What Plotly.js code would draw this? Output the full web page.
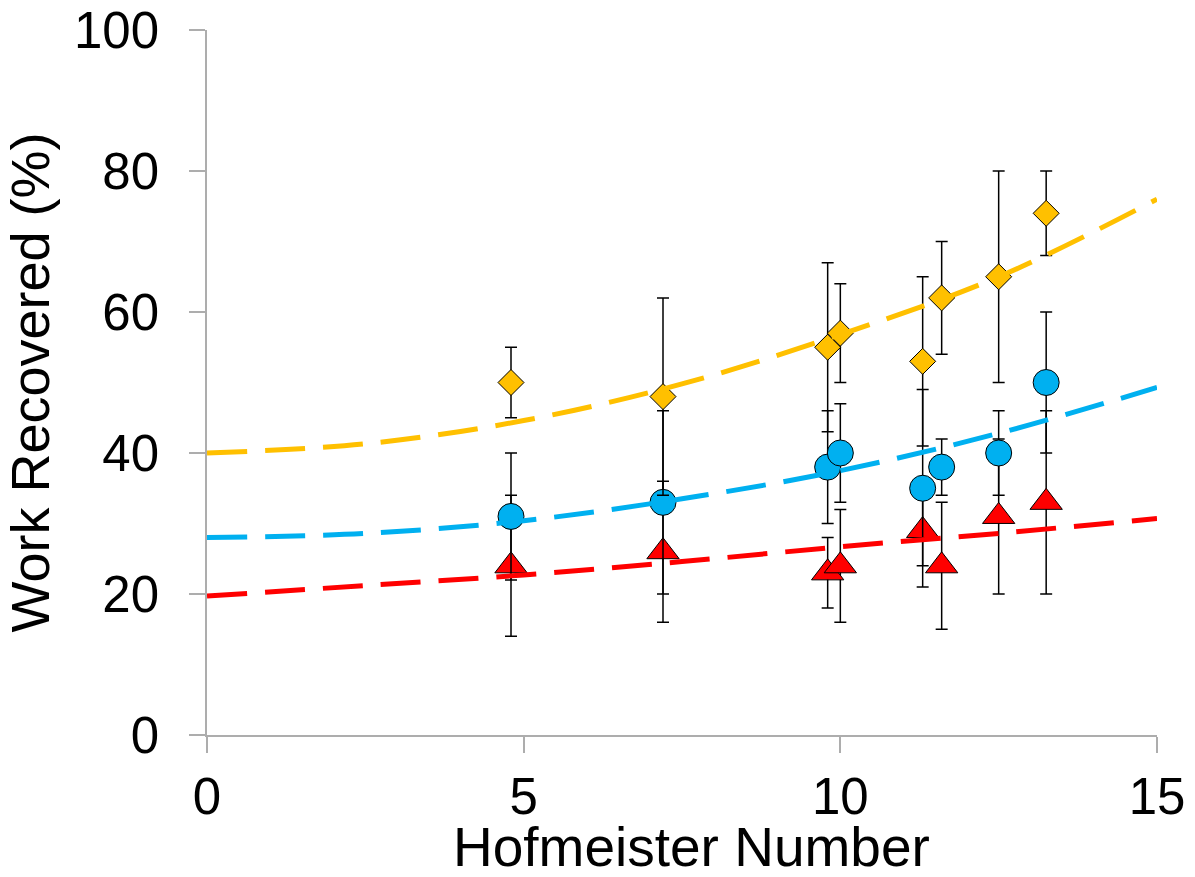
<!DOCTYPE html>
<html>
<head>
<meta charset="utf-8">
<script src="https://cdn.plot.ly/plotly-3.0.1.min.js"></script>
<style>
  html, body { margin: 0; padding: 0; background: #ffffff; }
  #chart { width: 1195px; height: 877px; }
</style>
</head>
<body>
<div id="chart"></div>
<script>
// Measured points
const hofmeister = [4.8, 7.2, 9.8, 10.0, 11.3, 11.6, 12.5, 13.25];
const diamondValues = [50, 48, 55, 57, 53, 62, 65, 74];
const diamondErrors = [5, 14, 12, 7, 12, 8, 15, 6];
const circleValues = [31, 33, 38, 40, 35, 38, 40, 50];
const circleErrors = [9, 13, 8, 7, 14, 4, 6, 10];
const triangleValues = [24, 26, 23, 24, 29, 24, 31, 33];
const triangleErrors = [10, 10, 5, 8, 5, 9, 11, 13];

// Trend lines
const fitX = [0, 2.5, 5, 7.5, 10, 12.5, 15];
const diamondFit = [40, 41.3, 44.6, 49.8, 56.8, 65, 76];
const circleFit = [28, 28.6, 30.4, 33.5, 37.5, 42.8, 49.3];
const triangleFit = [19.7, 21.2, 22.7, 24.6, 26.7, 28.6, 30.7];

const xTickVals = [0, 5, 10, 15];
const yTickVals = [0, 20, 40, 60, 80, 100];
const xTitle = 'Hofmeister Number';
const yTitle = 'Work Recovered (%)';

const YELLOW = '#FFC000', BLUE = '#00B0F0', RED = '#FF0000';
const AXIS = '#ADADAD';
const FONT = '"Liberation Sans", Arial, sans-serif';

function errBar(arr) {
  return { type: 'data', array: arr, visible: true, color: '#000000', thickness: 1.5, width: 6 };
}
function pts(y, err, color, symbol, size) {
  return {
    x: hofmeister, y: y, type: 'scatter', mode: 'markers',
    marker: { color: color, symbol: symbol, size: size, line: { color: '#000000', width: 1 } },
    error_y: errBar(err), showlegend: false, hoverinfo: 'x+y'
  };
}
function fit(y, color) {
  return {
    x: fitX, y: y, type: 'scatter', mode: 'lines',
    line: { color: color, width: 5, dash: '40px,18px', shape: 'spline', smoothing: 1 },
    showlegend: false, hoverinfo: 'skip'
  };
}

const data = [
  pts(triangleValues, triangleErrors, RED, 'triangle-up', 28),
  pts(circleValues, circleErrors, BLUE, 'circle', 26),
  pts(diamondValues, diamondErrors, YELLOW, 'diamond', 20),
  fit(diamondFit, YELLOW),
  fit(circleFit, BLUE),
  fit(triangleFit, RED)
];

const layout = {
  width: 1195, height: 877,
  margin: { l: 207, r: 38, t: 30, b: 142 },
  paper_bgcolor: '#ffffff', plot_bgcolor: '#ffffff',
  font: { family: FONT, color: '#000000', size: 51 },
  xaxis: {
    range: [0, 15], tickvals: xTickVals, ticktext: xTickVals.map(String),
    showgrid: false, zeroline: false, showline: true, linecolor: AXIS, linewidth: 1.5,
    ticks: 'outside', ticklen: 16, tickcolor: AXIS, tickwidth: 1.5,
    tickfont: { family: FONT, size: 51, color: '#000000' },
    automargin: false
  },
  yaxis: {
    range: [0, 100], tickvals: yTickVals, ticktext: yTickVals.map(String),
    showgrid: false, zeroline: false, showline: true, linecolor: AXIS, linewidth: 1.5,
    ticks: 'outside', ticklen: 16, tickcolor: AXIS, tickwidth: 1.5,
    tickfont: { family: FONT, size: 51, color: '#000000' },
    ticklabelstandoff: 20,
    title: { text: yTitle, font: { family: FONT, size: 54, color: '#000000' }, standoff: 10 },
    automargin: false
  },
  annotations: [{
    text: xTitle, xref: 'paper', yref: 'paper', x: 0.51, y: 0,
    xanchor: 'center', yanchor: 'top', yshift: -79, showarrow: false,
    font: { family: FONT, size: 55, color: '#000000' }
  }]
};

Plotly.newPlot('chart', data, layout, { displayModeBar: false, responsive: false });
</script>
</body>
</html>
